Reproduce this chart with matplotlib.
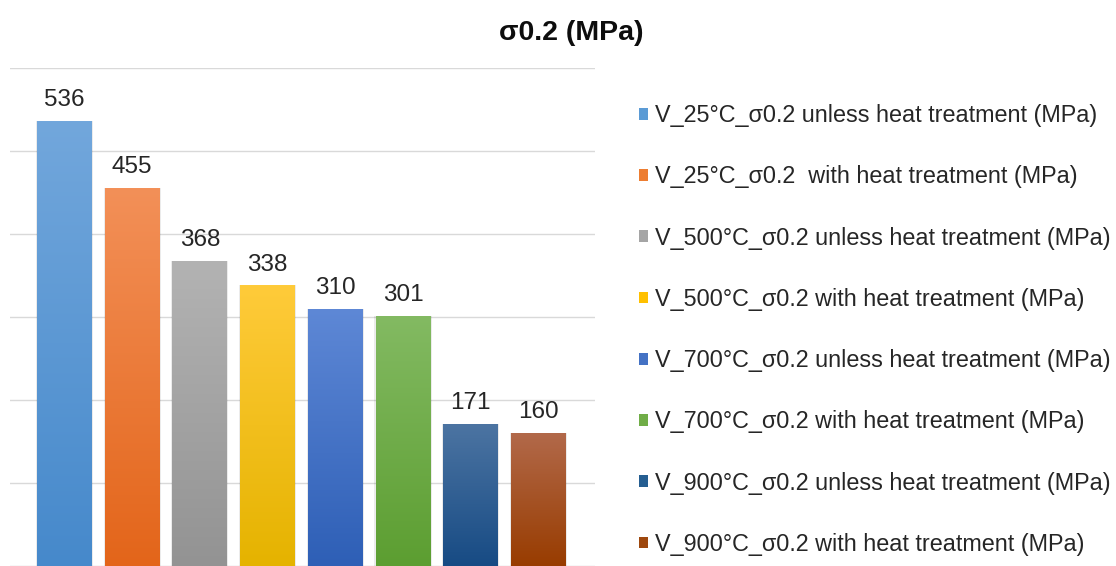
import numpy as np
import matplotlib

matplotlib.use("Agg")
import matplotlib.pyplot as plt
from matplotlib.colors import LinearSegmentedColormap
from matplotlib.patches import Patch

plt.rcParams["font.family"] = ["Liberation Sans", "DejaVu Sans"]

labels = [
    "V_25°C_σ0.2 unless heat treatment (MPa)",
    "V_25°C_σ0.2  with heat treatment (MPa)",
    "V_500°C_σ0.2 unless heat treatment (MPa)",
    "V_500°C_σ0.2 with heat treatment (MPa)",
    "V_700°C_σ0.2 unless heat treatment (MPa)",
    "V_700°C_σ0.2 with heat treatment (MPa)",
    "V_900°C_σ0.2 unless heat treatment (MPa)",
    "V_900°C_σ0.2 with heat treatment (MPa)",
]
values = [536, 455, 368, 338, 310, 301, 171, 160]

# (couleur haut, couleur bas) pour le dégradé de chaque barre
top_colors = ["#72a7dc", "#f39058", "#b3b3b3", "#ffcb3a", "#5e88d6", "#83ba62", "#4c74a2", "#b2694a"]
bottom_colors = ["#4689cb", "#e3651a", "#939393", "#e5b300", "#2e5fb6", "#5c9e31", "#174b84", "#983c00"]
legend_colors = ["#5b9bd5", "#ed7d31", "#a5a5a5", "#ffc000", "#4472c4", "#70ad47", "#255e91", "#9e480e"]

fig = plt.figure(figsize=(11.16, 5.66), dpi=100)
ax = fig.add_axes([10 / 1116, 0.0, 585 / 1116, 498 / 566])

x = np.arange(len(values))
bars = ax.bar(x, values, width=0.81, color="none", edgecolor="none", zorder=3)

grad = np.linspace(1, 0, 256).reshape(-1, 1)
for bar, c_top, c_bot in zip(bars, top_colors, bottom_colors):
    x0, y0 = bar.get_x(), bar.get_y()
    w, h = bar.get_width(), bar.get_height()
    # ombre légère
    ax.bar(x0 + w / 2, h, width=w * 1.04, color="#000000", alpha=0.08, zorder=2)
    cmap = LinearSegmentedColormap.from_list("g", [c_bot, c_top])
    im = ax.imshow(grad, cmap=cmap, aspect="auto", extent=[x0, x0 + w, y0, y0 + h],
                   origin="upper", zorder=3)
    im.set_clip_path(bar)
    ax.text(x0 + w / 2, h + 18, f"{h:.0f}", ha="center", va="baseline", fontsize=17.5, color="#262626")

ax.set_xlim(-0.805, 7.836)
ax.set_ylim(0, 600)
ax.set_yticks(np.arange(0, 601, 100))
ax.grid(axis="y", color="#d9d9d9", lw=1, zorder=0)
ax.set_xticks([])
ax.tick_params(axis="y", length=0, labelleft=False)
for s in ax.spines.values():
    s.set_visible(False)

fig.text(571 / 1116, 1 - 33 / 566, "σ0.2 (MPa)", ha="center", va="center",
         fontsize=20.5, fontweight="bold", color="#0d0d0d")

handles = [Patch(facecolor=c, edgecolor="none") for c in legend_colors]
fig.legend(handles, labels, loc="upper left", bbox_to_anchor=(639 / 1116, 1 - 104 / 566),
           frameon=False, fontsize=16.8, handlelength=0.4, handleheight=0.4,
           handletextpad=0.3, labelspacing=1.64, borderaxespad=0, borderpad=0,
           labelcolor="#262626")

fig.savefig("out.png", dpi=100, facecolor="white")
